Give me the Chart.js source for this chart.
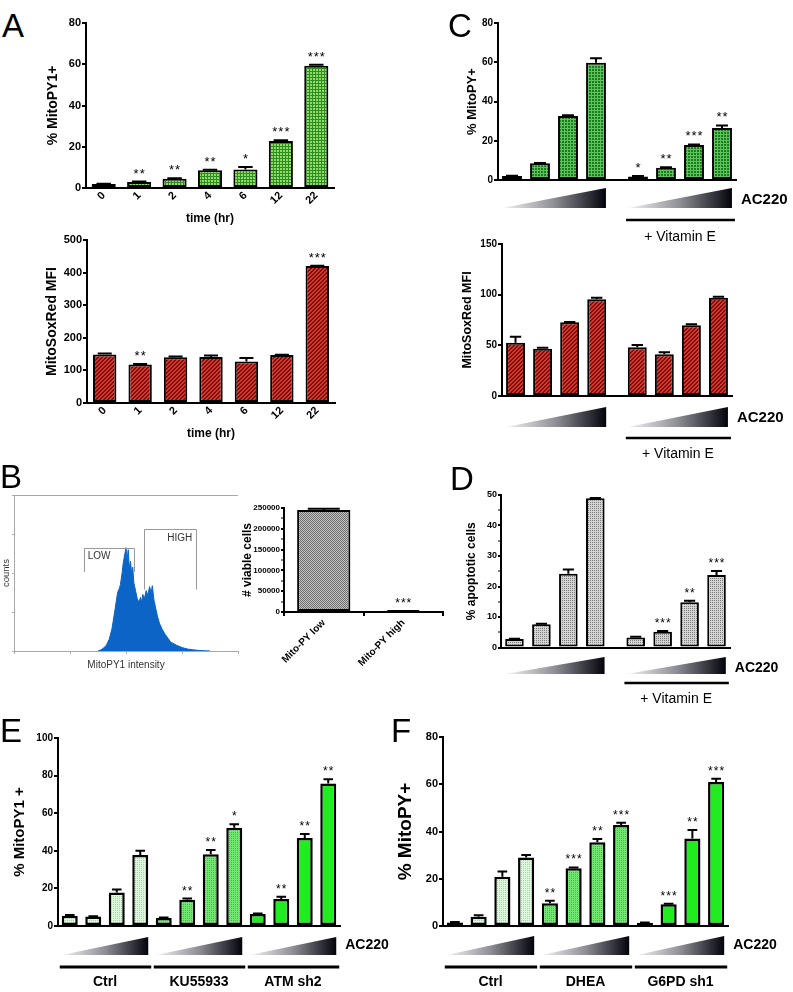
<!DOCTYPE html>
<html><head><meta charset="utf-8">
<script src="https://cdn.jsdelivr.net/npm/chart.js@4/dist/chart.umd.min.js"></script>
<style>
body{margin:0;width:793px;height:992px;position:relative;background:#fff;overflow:hidden;font-family:'Liberation Sans',Arial,Helvetica,sans-serif}
canvas{position:absolute}
.lbl{position:absolute;font-size:33px;line-height:33px;color:#000;font-family:'Liberation Sans',Arial,sans-serif}
</style></head><body>
<script>
// ---------------- DATA ----------------
// Panel A
const timeLabels = ['0', '1', '2', '4', '6', '12', '22'];
const mitoPy1Time = [1.9, 2.9, 4.5, 8.6, 9.0, 22.8, 59.3];
const mitoPy1TimeSem = [0.2, 0.2, 0.2, 0.3, 1.2, 0.3, 0.5];
const mitoPy1TimeSig = ['', '**', '**', '**', '*', '***', '***'];
const soxTime = [149, 118, 140, 141, 127, 147, 420];
const soxTimeSem = [3, 2, 3, 5, 11, 1, 1];
const soxTimeSig = ['', '**', '', '', '', '', '***'];
// Panel B histogram (log10 intensity, counts)
const histLogIntensity = [1.50,1.55,1.60,1.65,1.70,1.75,1.80,1.85,1.88,1.90,1.93,1.95,1.98,2.00,2.02,2.04,2.06,2.08,2.10,2.12,2.14,2.17,2.20,2.23,2.26,2.28,2.30,2.33,2.36,2.39,2.42,2.45,2.47,2.50,2.53,2.56,2.60,2.65,2.70,2.75,2.80,2.90,3.00,3.10,3.20,3.30,3.40,3.50];
const histCounts = [0,1,3,6,12,23,41,60,64,68,80,90,100,106,94,104,84,92,80,86,70,62,54,50,55,50,58,54,62,57,66,60,67,52,44,36,28,22,17,13,9,6,3.5,2,1.2,0.6,0.3,0];
const gateLow = [1.25, 2.14];
const gateHigh = [2.32, 3.25];
// Panel B bars
const viableLabels = ['Mito-PY low', 'Mito-PY high'];
const viableCells = [245000, 2000];
const viableSem = [3000, 600];
const viableSig = ['', '***'];
// Panel C
const vitEGroups = ['', '+ Vitamin E'];
const mitoPyVitE = [2.0, 8.5, 32.6, 59.7, 1.8, 6.2, 17.8, 26.5];
const mitoPyVitESem = [0.2, 0.2, 0.4, 2.3, 0.2, 0.3, 0.3, 1.3];
const mitoPyVitESig = ['', '', '', '', '*', '**', '***', '**'];
const soxVitE = [52.6, 46.7, 72.7, 95.4, 48.0, 41.1, 69.7, 97.0];
const soxVitESem = [5.9, 1.0, 0.3, 1.6, 2.3, 2.0, 1.0, 1.0];
// Panel D
const apoptVitE = [2.8, 7.6, 24.2, 48.9, 3.3, 5.2, 14.8, 23.8];
const apoptVitESem = [0.1, 0.2, 1.4, 0.1, 0.2, 0.2, 0.5, 1.3];
const apoptVitESig = ['', '', '', '', '', '***', '**', '***'];
// Panel E
const atmGroups = ['Ctrl', 'KU55933', 'ATM sh2'];
const atmMitoPy = [5.5, 5.0, 17.8, 37.7, 4.3, 14.0, 38.1, 52.3, 6.4, 14.4, 46.8, 75.8];
const atmMitoPySem = [0.3, 0.2, 1.6, 2.3, 0.2, 0.6, 2.3, 1.8, 0.2, 1.1, 2.1, 2.3];
const atmMitoPySig = ['', '', '', '', '', '**', '**', '*', '', '**', '**', '**'];
// Panel F
const g6pdGroups = ['Ctrl', 'DHEA', 'G6PD sh1'];
const g6pdMitoPy = [1.5, 3.9, 20.8, 29.0, 9.6, 24.4, 35.4, 42.8, 1.4, 9.2, 37.0, 61.0];
const g6pdMitoPySem = [0.2, 0.6, 2.3, 1.1, 1.1, 0.4, 1.4, 0.9, 0.1, 0.2, 3.6, 1.3];
const g6pdMitoPySig = ['', '', '', '', '**', '***', '**', '***', '', '***', '**', '***'];
const dosesPerGroup = 4;

// ---------------- HELPERS ----------------
const FONT = "'Liberation Sans', Arial, Helvetica, sans-serif";
function fnt(size, weight) { return { family: FONT, size: size, weight: weight || 'bold', lineHeight: 1.2 }; }
function tile(n, bg, fg, fn) {
  const c = document.createElement('canvas'); c.width = n; c.height = n;
  const g = c.getContext('2d'); g.fillStyle = bg; g.fillRect(0, 0, n, n); g.fillStyle = fg;
  for (let y = 0; y < n; y++) for (let x = 0; x < n; x++) if (fn(x, y)) g.fillRect(x, y, 1, 1);
  return document.createElement('canvas').getContext('2d').createPattern(c, 'repeat');
}
const PAT = {
  gridLight: tile(3, '#8fdc66', '#2f8c22', (x, y) => x === 0 || y === 0),
  gridDark: tile(3, '#1a7d1a', '#5ec35e', (x, y) => x === 0 || y === 0),
  red: tile(4, '#d8382b', '#7a1010', (x, y) => (x + y) % 4 < 2),
  grayDots: tile(2, '#d4d4d4', '#7c7c7c', (x, y) => x === 0 && y === 0),
  grayHatch: tile(2, '#c6c6c6', '#6c6c6c', (x, y) => (x + y) % 2 === 0),
  ctrl: tile(2, '#dcf9dc', '#96e096', (x, y) => x === 0 && y === 0),
  mid: tile(2, '#72e872', '#3ebf3e', (x, y) => x === 0 && y === 0),
  solid: '#20ec20'
};
function makeCanvas(cv) {
  const c = document.createElement('canvas');
  c.width = cv.w; c.height = cv.h;
  c.style.left = cv.l + 'px'; c.style.top = cv.t + 'px';
  c.style.width = cv.w + 'px'; c.style.height = cv.h + 'px';
  document.body.appendChild(c);
  return c;
}
function groupOf(i) { return Math.floor(i / dosesPerGroup); }

function extrasPlugin(o) {
  return {
    id: 'extras',
    afterDatasetsDraw(chart) {
      const ctx = chart.ctx, meta = chart.getDatasetMeta(0), ys = chart.scales.y, area = chart.chartArea;
      const data = chart.data.datasets[0].data;
      ctx.save();
      meta.data.forEach((bar, i) => {
        const d = data[i]; const v = (typeof d === 'object') ? d.y : d;
        let top = bar.y;
        const s = o.sem ? o.sem[i] : 0;
        if (s) {
          const yT = ys.getPixelForValue(v + s);
          ctx.strokeStyle = '#000'; ctx.lineWidth = 2;
          const hw = bar.width * 0.3;
          ctx.beginPath(); ctx.moveTo(bar.x, bar.y); ctx.lineTo(bar.x, yT);
          ctx.moveTo(bar.x - hw, yT); ctx.lineTo(bar.x + hw, yT); ctx.stroke();
          top = Math.min(top, yT);
        }
        const sg = o.sig ? o.sig[i] : '';
        if (sg) {
          ctx.font = o.starSize + 'px ' + FONT; ctx.fillStyle = '#000';
          ctx.textAlign = 'center'; ctx.textBaseline = 'alphabetic';
          ctx.letterSpacing = '1px';
          ctx.fillText(sg, bar.x + 0.5, top - 4);
          ctx.letterSpacing = '0px';
        }
      });
      if (o.groups) {
        const g = o.groups, n = g.labels.length;
        for (let k = 0; k < n; k++) {
          const ba = meta.data[k * dosesPerGroup], bb = meta.data[k * dosesPerGroup + dosesPerGroup - 1];
          const x0 = ba.x - ba.width / 2, x1 = bb.x + bb.width / 2;
          const yT = area.bottom + g.triTop, yB = area.bottom + g.triBot;
          const grad = ctx.createLinearGradient(x0, 0, x1, 0);
          grad.addColorStop(0, '#f4f4f6'); grad.addColorStop(0.5, '#8e8e96'); grad.addColorStop(1, '#03030b');
          ctx.fillStyle = grad;
          ctx.beginPath(); ctx.moveTo(x0, yB); ctx.lineTo(x1, yT); ctx.lineTo(x1, yB); ctx.closePath(); ctx.fill();
          if (g.labels[k]) {
            ctx.strokeStyle = '#000'; ctx.lineWidth = g.lineW;
            ctx.beginPath(); ctx.moveTo(x0 - 2, area.bottom + g.lineY); ctx.lineTo(x1 + 3, area.bottom + g.lineY); ctx.stroke();
            ctx.fillStyle = '#000'; ctx.font = g.labelFont; ctx.textAlign = 'center'; ctx.textBaseline = 'middle';
            ctx.fillText(g.labels[k], (x0 + x1) / 2, area.bottom + g.labelY);
          }
          if (k === n - 1) {
            ctx.fillStyle = '#000'; ctx.font = 'bold ' + g.acSize + 'px ' + FONT; ctx.textAlign = 'left'; ctx.textBaseline = 'middle';
            ctx.fillText('AC220', x1 + 9, area.bottom + g.acY);
          }
        }
      }
      ctx.restore();
    }
  };
}

function barChart(o) {
  const cv = o.cv, area = o.area;
  const canvas = makeCanvas(cv);
  const linear = !!o.gapGroups;
  const data = linear ? o.values.map((v, i) => ({ x: i + 1 + groupOf(i) * 0.5, y: v })) : o.values;
  const xScale = {
    type: linear ? 'linear' : 'category', offset: !linear,
    min: linear ? 0.5 : undefined, max: linear ? 9 : undefined,
    ticks: { display: !!o.xTickLabels, font: fnt(o.xTickSize || 11), color: '#000', minRotation: 45, maxRotation: 45, padding: 1, autoSkip: false },
    grid: { display: true, drawOnChartArea: false, drawTicks: !!o.xTickMarks, tickLength: 4, color: '#000', lineWidth: 2, offset: !linear },
    border: { display: true, color: '#000', width: 2 },
    title: o.xTitle ? { display: true, text: o.xTitle, font: fnt(o.xTitleSize), color: '#000', padding: { top: 0, bottom: o.xTitlePad } } : { display: false },
    afterFit: (s) => { s.height = cv.t + cv.h - area.b; }
  };
  const yScale = {
    type: 'linear', min: 0, max: o.yMax,
    ticks: { stepSize: o.yStep, autoSkip: false, font: fnt(o.yTickSize), color: '#000', padding: 1,
      callback: (v) => (o.labelEvery && v % o.labelEvery) ? '' : v },
    grid: { drawOnChartArea: false, drawTicks: true, tickLength: o.tickLen || 4, color: '#000', lineWidth: 2,
      tickWidth: (c) => (o.labelEvery && c.tick && c.tick.value % o.labelEvery) ? 1 : 2 },
    border: { display: true, color: '#000', width: 2 },
    title: { display: true, text: o.yTitle, font: fnt(o.yTitleSize), color: '#000', padding: { top: o.yTitlePad, bottom: 0 } },
    afterFit: (s) => { s.width = area.l - cv.l; }
  };
  return new Chart(canvas, {
    type: 'bar',
    data: { labels: o.labels, datasets: [{ data: data, backgroundColor: o.colors, borderColor: '#000', borderWidth: o.borderW || 2,
      borderSkipped: false, barPercentage: o.barPct, categoryPercentage: 1 }] },
    options: {
      responsive: false, animation: false, devicePixelRatio: 1,
      layout: { padding: { left: 0, top: area.t - cv.t, right: cv.l + cv.w - area.r, bottom: 0 } },
      plugins: { legend: { display: false }, tooltip: { enabled: false } },
      scales: { x: xScale, y: yScale }
    },
    plugins: [extrasPlugin(o)]
  });
}

// ---------------- PANEL A ----------------
barChart({ cv: { l: 30, t: 8, w: 320, h: 222 }, area: { l: 86, t: 23, r: 334, b: 188 },
  labels: timeLabels, values: mitoPy1Time, sem: mitoPy1TimeSem, sig: mitoPy1TimeSig,
  colors: timeLabels.map(() => PAT.gridLight), barPct: 0.68, yMax: 80, yStep: 20, yTickSize: 11,
  yTitle: '% MitoPY1+', yTitleSize: 14, yTitlePad: 14.6, xTickLabels: true, xTickSize: 11,
  xTitle: 'time (hr)', xTitleSize: 12, xTitlePad: 3.8, starSize: 13 });

barChart({ cv: { l: 30, t: 228, w: 320, h: 218 }, area: { l: 87, t: 240, r: 335, b: 403 },
  labels: timeLabels, values: soxTime, sem: soxTimeSem, sig: soxTimeSig,
  colors: timeLabels.map(() => PAT.red), barPct: 0.66, yMax: 500, yStep: 100, yTickSize: 11,
  yTitle: 'MitoSoxRed MFI', yTitleSize: 14, yTitlePad: 13.6, xTickLabels: true, xTickSize: 11,
  xTitle: 'time (hr)', xTitleSize: 12, xTitlePad: 4.8, starSize: 13 });

// ---------------- PANEL B ----------------
(function () {
  const cv = { l: 0, t: 485, w: 245, h: 190 }, area = { l: 14, t: 495, r: 238, b: 651 };
  const canvas = makeCanvas(cv);
  const gatePlugin = {
    id: 'gates',
    afterDatasetsDraw(chart) {
      const ctx = chart.ctx, xs = chart.scales.x, ys = chart.scales.y, a = chart.chartArea;
      ctx.save();
      ctx.strokeStyle = '#a8a8a8'; ctx.lineWidth = 1;
      ctx.beginPath(); ctx.moveTo(a.left, a.top + 0.5); ctx.lineTo(a.right, a.top + 0.5); ctx.stroke();
      const gates = [[gateLow, 106, 81, 'LOW', 1.52, 97], [gateHigh, 125, 63, 'HIGH', 2.96, 116]];
      gates.forEach(([gx, top, leg, txt, tx, ty]) => {
        const x0 = Math.round(xs.getPixelForValue(gx[0])) + 0.5, x1 = Math.round(xs.getPixelForValue(gx[1])) + 0.5;
        const yT = Math.round(ys.getPixelForValue(top)) + 0.5, yL = ys.getPixelForValue(leg);
        ctx.strokeStyle = '#9a9a9a';
        ctx.beginPath(); ctx.moveTo(x0, yL); ctx.lineTo(x0, yT); ctx.lineTo(x1, yT); ctx.lineTo(x1, yL); ctx.stroke();
        ctx.fillStyle = '#333'; ctx.font = '10px ' + FONT; ctx.textAlign = 'center'; ctx.textBaseline = 'middle';
        ctx.fillText(txt, xs.getPixelForValue(tx), ys.getPixelForValue(ty));
      });
      ctx.restore();
    }
  };
  new Chart(canvas, {
    type: 'line',
    data: { datasets: [{ data: histLogIntensity.map((x, i) => ({ x: x, y: histCounts[i] })), fill: 'origin',
      backgroundColor: '#0b64c6', borderColor: '#0b64c6', borderWidth: 1, pointRadius: 0, tension: 0 }] },
    options: {
      responsive: false, animation: false, devicePixelRatio: 1,
      layout: { padding: { left: 0, top: area.t - cv.t, right: cv.l + cv.w - area.r, bottom: 0 } },
      plugins: { legend: { display: false }, tooltip: { enabled: false } },
      scales: {
        x: { type: 'linear', min: 0, max: 4, ticks: { display: false, stepSize: 1 },
          grid: { drawOnChartArea: false, drawTicks: true, tickLength: 3, color: '#b0b0b0', lineWidth: 1 },
          border: { color: '#a8a8a8', width: 1 },
          title: { display: true, text: 'MitoPY1 intensity', font: fnt(10, 'normal'), color: '#333', padding: { top: 0, bottom: 4 } },
          afterFit: (s) => { s.height = cv.t + cv.h - area.b; } },
        y: { type: 'linear', min: 0, max: 160, ticks: { display: false, stepSize: 40 },
          grid: { drawOnChartArea: false, drawTicks: true, tickLength: 2, color: '#b0b0b0', lineWidth: 1 },
          border: { color: '#a8a8a8', width: 1 },
          title: { display: true, text: 'counts', font: fnt(9.5, 'normal'), color: '#333', padding: { top: 0.8, bottom: 0 } },
          afterFit: (s) => { s.width = area.l - cv.l; } }
      }
    },
    plugins: [gatePlugin]
  });
})();

barChart({ cv: { l: 225, t: 495, w: 225, h: 178 }, area: { l: 284, t: 508, r: 443, b: 612 },
  labels: viableLabels, values: viableCells, sem: viableSem, sig: viableSig,
  colors: viableLabels.map(() => PAT.grayHatch), barPct: 0.67, yMax: 250000, yStep: 25000, labelEvery: 50000, yTickSize: 8,
  tickLen: 3, yTitle: '# viable cells', yTitleSize: 12, yTitlePad: 15.8, xTickLabels: true, xTickMarks: true, xTickSize: 10,
  starSize: 12 });

// ---------------- PANEL C ----------------
const vitEColorsGreen = mitoPyVitE.map(() => PAT.gridDark);
barChart({ cv: { l: 450, t: 8, w: 343, h: 237 }, area: { l: 498, t: 23, r: 736, b: 180 },
  gapGroups: true, values: mitoPyVitE, sem: mitoPyVitESem, sig: mitoPyVitESig,
  colors: vitEColorsGreen, barPct: 0.71, yMax: 80, yStep: 20, yTickSize: 10,
  yTitle: '% MitoPY+', yTitleSize: 13, yTitlePad: 14.2, starSize: 13,
  groups: { labels: vitEGroups, triTop: 8, triBot: 28, acY: 20, acSize: 15, lineY: 40, lineW: 2.5, labelY: 57, labelFont: '14px ' + FONT } });

barChart({ cv: { l: 450, t: 232, w: 343, h: 232 }, area: { l: 502, t: 244, r: 732, b: 396 },
  gapGroups: true, values: soxVitE, sem: soxVitESem, sig: null,
  colors: soxVitE.map(() => PAT.red), barPct: 0.70, yMax: 150, yStep: 50, yTickSize: 10,
  yTitle: 'MitoSoxRed MFI', yTitleSize: 12.5, yTitlePad: 10.5, starSize: 13,
  groups: { labels: vitEGroups, triTop: 11, triBot: 31, acY: 22, acSize: 15, lineY: 42, lineW: 2.5, labelY: 58, labelFont: '14px ' + FONT } });

// ---------------- PANEL D ----------------
barChart({ cv: { l: 450, t: 482, w: 343, h: 228 }, area: { l: 501, t: 495, r: 730, b: 647.5 },
  gapGroups: true, values: apoptVitE, sem: apoptVitESem, sig: apoptVitESig,
  colors: apoptVitE.map(() => PAT.grayDots), barPct: 0.69, yMax: 50, yStep: 5, labelEvery: 10, yTickSize: 9,
  tickLen: 3, yTitle: '% apoptotic cells', yTitleSize: 12, yTitlePad: 14.8, starSize: 12,
  groups: { labels: vitEGroups, triTop: 9.5, triBot: 26.5, acY: 20.5, acSize: 14, lineY: 35.5, lineW: 2.5, labelY: 51.5, labelFont: '14px ' + FONT } });

// ---------------- PANEL E ----------------
const groupPatterns = [PAT.ctrl, PAT.mid, PAT.solid];
barChart({ cv: { l: 5, t: 722, w: 395, h: 270 }, area: { l: 58, t: 738, r: 340, b: 926 },
  labels: atmMitoPy.map((v, i) => atmGroups[groupOf(i)] + ' ' + (i % dosesPerGroup + 1)),
  values: atmMitoPy, sem: atmMitoPySem, sig: atmMitoPySig,
  colors: atmMitoPy.map((v, i) => groupPatterns[groupOf(i)]), barPct: 0.68, yMax: 100, yStep: 20, yTickSize: 10,
  yTitle: '% MitoPY1 +', yTitleSize: 15, yTitlePad: 6, starSize: 12, borderW: 2.5,
  groups: { labels: atmGroups, triTop: 11, triBot: 29, acY: 19, acSize: 14, lineY: 41, lineW: 3, labelY: 56, labelFont: 'bold 14px ' + FONT } });

// ---------------- PANEL F ----------------
barChart({ cv: { l: 393, t: 722, w: 400, h: 270 }, area: { l: 443, t: 737, r: 728, b: 926 },
  labels: g6pdMitoPy.map((v, i) => g6pdGroups[groupOf(i)] + ' ' + (i % dosesPerGroup + 1)),
  values: g6pdMitoPy, sem: g6pdMitoPySem, sig: g6pdMitoPySig,
  colors: g6pdMitoPy.map((v, i) => groupPatterns[groupOf(i)]), barPct: 0.68, yMax: 80, yStep: 20, yTickSize: 11,
  yTitle: '% MitoPY+', yTitleSize: 19, yTitlePad: 1.6, starSize: 12, borderW: 2.5,
  groups: { labels: g6pdGroups, triTop: 10, triBot: 29, acY: 19, acSize: 14, lineY: 41, lineW: 3, labelY: 56, labelFont: 'bold 14px ' + FONT } });
</script>
<div class="lbl" style="left:2px;top:9px">A</div>
<div class="lbl" style="left:0px;top:460px">B</div>
<div class="lbl" style="left:448px;top:9px">C</div>
<div class="lbl" style="left:450px;top:462px">D</div>
<div class="lbl" style="left:0px;top:714px">E</div>
<div class="lbl" style="left:391px;top:714px">F</div>
</body></html>
